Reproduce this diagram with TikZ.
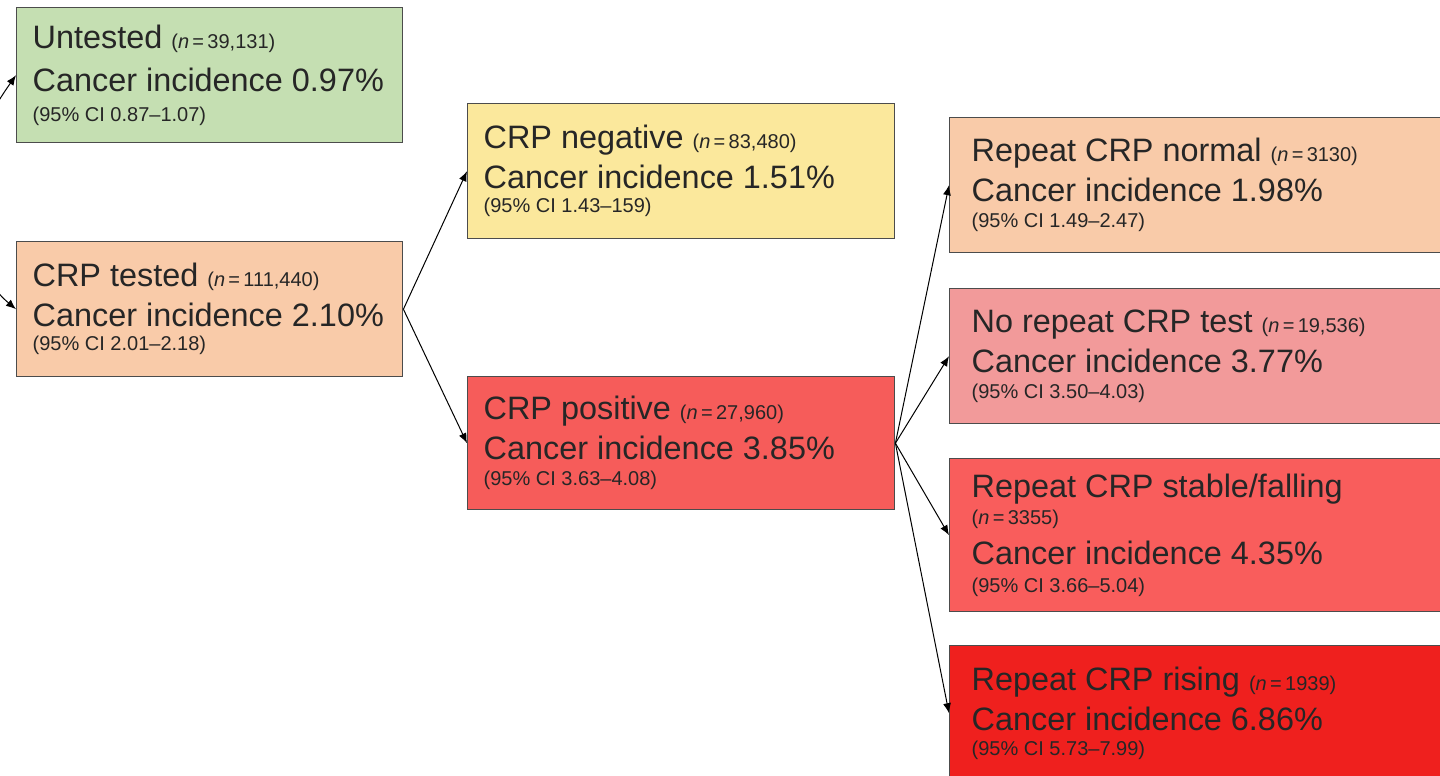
\documentclass[tikz,border=0pt]{standalone}
\usepackage{fontspec}
\setmainfont{Liberation Sans}
\usetikzlibrary{arrows.meta}

\definecolor{greenbox}{HTML}{C5DFB2}
\definecolor{peachbox}{HTML}{F9CBA9}
\definecolor{yellowbox}{HTML}{FBE89C}
\definecolor{posbox}{HTML}{F65C5A}
\definecolor{pinkbox}{HTML}{F29A9A}
\definecolor{stablebox}{HTML}{F95D5C}
\definecolor{risingbox}{HTML}{EF201E}

\newcommand{\sm}[1]{{\fontsize{10}{12}\selectfont #1}}
\newcommand{\nn}[1]{\sm{(\textit{n}\,=\,#1)}}

\tikzset{
  box/.style={draw=black!70, line width=0.7pt, anchor=north west, align=flush left,
    inner xsep=8pt, minimum height=67.5pt, font={\fontsize{16.2}{20}\selectfont}, text=black!85},
  arr/.style={-{Latex[length=5pt,width=4pt]}, line width=0.5pt}
}

\begin{document}
\begin{tikzpicture}[x=0.5pt,y=-0.5pt]
\useasboundingbox (0,0) rectangle (1440,776);
\clip (0,0) rectangle (1440,776);

% Left column
\node[box, fill=greenbox, text width=177pt] (untested) at (16,7)
  {Untested \nn{39,131}\\[1.5pt] Cancer incidence 0.97\%\\[-5pt] \sm{(95\% CI 0.87--1.07)}};
\node[box, fill=peachbox, text width=177pt] (tested) at (16,241)
  {CRP tested \nn{111,440}\\ Cancer incidence 2.10\%\\[-8pt] \sm{(95\% CI 2.01--2.18)}};

% Middle column
\node[box, fill=yellowbox, text width=197.5pt] (negative) at (467,103)
  {CRP negative \nn{83,480}\\ Cancer incidence 1.51\%\\[-8pt] \sm{(95\% CI 1.43--159)}};
\node[box, fill=posbox, text width=197.5pt, minimum height=66.5pt] (positive) at (467,376)
  {CRP positive \nn{27,960}\\ Cancer incidence 3.85\%\\[-7pt] \sm{(95\% CI 3.63--4.08)}};

% Right column (cut off by the page)
\node[box, fill=peachbox, text width=238pt, inner xsep=11pt] (normal) at (949,117)
  {Repeat CRP normal \nn{3130}\\ Cancer incidence 1.98\%\\[-7pt] \sm{(95\% CI 1.49--2.47)}};
\node[box, fill=pinkbox, text width=238pt, inner xsep=11pt] (norepeat) at (949,288)
  {No repeat CRP test \nn{19,536}\\ Cancer incidence 3.77\%\\[-7pt] \sm{(95\% CI 3.50--4.03)}};
\node[box, fill=stablebox, text width=238pt, inner xsep=11pt, minimum height=76.5pt] (stable) at (949,458)
  {Repeat CRP stable/falling\\[-6.5pt] \nn{3355}\\ Cancer incidence 4.35\%\\[-6pt] \sm{(95\% CI 3.66--5.04)}};
\node[box, fill=risingbox, text width=238pt, inner xsep=11pt] (rising) at (949,645)
  {Repeat CRP rising \nn{1939}\\ Cancer incidence 6.86\%\\[-7.5pt] \sm{(95\% CI 5.73--7.99)}};

% Arrows
\coordinate (start) at (-30,190);
\draw[arr] (start) to[out=85,in=235] (untested.west);
\draw[arr] (start) to[out=-85,in=140] (tested.west);
\draw[arr] (tested.east) -- (negative.west);
\draw[arr] (tested.east) -- (positive.west);
\draw[arr] (positive.east) -- (normal.west);
\draw[arr] (positive.east) -- (norepeat.west);
\draw[arr] (positive.east) -- (stable.west);
\draw[arr] (positive.east) -- (rising.west);

\end{tikzpicture}
\end{document}
